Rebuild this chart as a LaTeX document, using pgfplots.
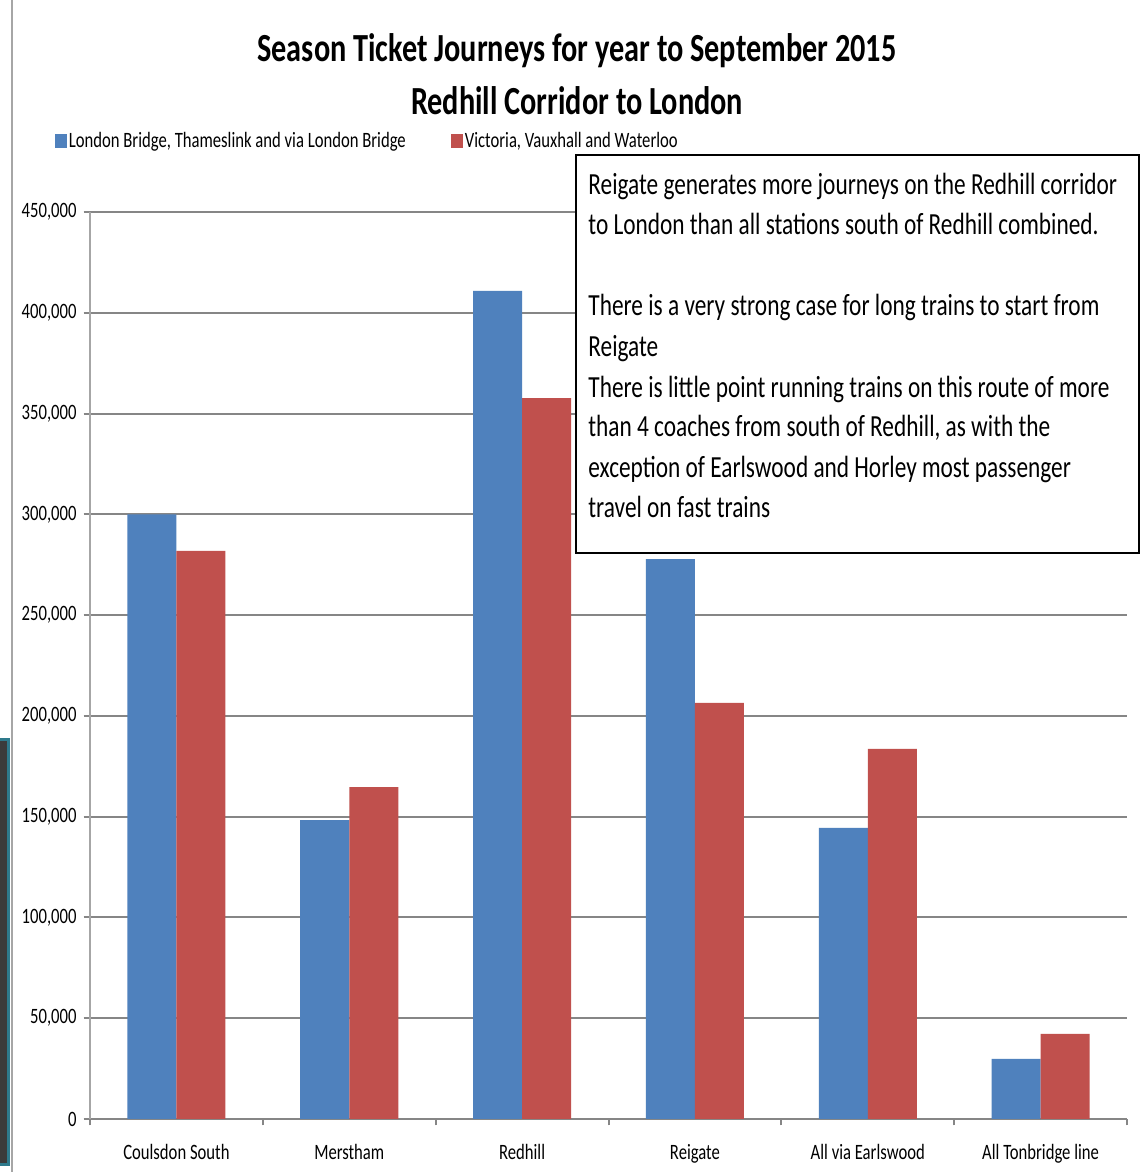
\documentclass[border=0pt]{standalone}
\usepackage{pgfplots}
\pgfplotsset{compat=1.18}
\usepackage{fontspec}
\setmainfont{Carlito}[FakeStretch=0.76]
\definecolor{sblue}{HTML}{4F81BD}
\definecolor{sred}{HTML}{C0504D}
\definecolor{gridg}{HTML}{868686}
\definecolor{axg}{HTML}{A6A6A6}
\definecolor{boxteal}{HTML}{2E7A8C}
\begin{document}
\begin{tikzpicture}[x=0.5bp,y=0.5bp]
\path[use as bounding box] (0,0) rectangle (1140,1172);
\fill[white] (0,0) rectangle (1140,1172);
\draw[axg, line width=1bp] (11.5,0) -- (11.5,1172);
\draw[fill=black!77, draw=boxteal, line width=1.5bp] (-4,7) rectangle (8,432);
\begin{axis}[
  at={(45bp,26.5bp)}, anchor=south west, scale only axis,
  width=518.5bp, height=453.5bp,
  xmin=-0.5, xmax=5.5, ymin=0, ymax=450000,
  axis lines*=left,
  x axis line style={gridg, line width=1.2bp},
  y axis line style={axg, line width=1bp},
  xtick={-0.5,0.5,1.5,2.5,3.5,4.5,5.5},
  x tick label as interval,
  xticklabels={Coulsdon South, Merstham, Redhill, Reigate, All via Earlswood, All Tonbridge line},
  xticklabel style={yshift=-6bp},
  ytick={0,50000,100000,150000,200000,250000,300000,350000,400000,450000},
  scaled y ticks=false,
  yticklabel style={/pgf/number format/.cd, fixed, 1000 sep={,}, assume math mode=true},
  tick label style={font=\fontsize{11}{13}\selectfont, text=black},
  tick align=outside,
  major tick length=3.2bp,
  tick style={gridg, line width=1bp},
  ymajorgrids,
  major grid style={gridg, line width=1bp},
  legend columns=2,
  legend style={at={(-0.0338,1.0783)}, anchor=west, draw=none, fill=none, inner sep=0pt,
    font=\fontsize{11}{13}\selectfont, nodes={inner sep=0.75bp},
    /tikz/every even column/.append style={column sep=22bp}},
  legend image code/.code={\path[#1, draw=none] (0bp,-3.5bp) rectangle (6bp,3.5bp);},
]
\addplot[ybar, bar width=0.2836, bar shift=-0.1418, fill=sblue, draw=none] coordinates {
  (0,300000) (1,148300) (2,410800) (3,277800) (4,144400) (5,29800)};
\addplot[ybar, bar width=0.2836, bar shift=0.1418, fill=sred, draw=none] coordinates {
  (0,281800) (1,164700) (2,357700) (3,206400) (4,183600) (5,42200)};
\legend{{London Bridge, Thameslink and via London Bridge}, {Victoria, Vauxhall and Waterloo}}
\end{axis}
\node[font=\bfseries\fontsize{20}{24}\selectfont, anchor=base] at (577,1110) {Season Ticket Journeys for year to September 2015};
\node[font=\bfseries\fontsize{20}{24}\selectfont, anchor=base] at (577,1057) {Redhill Corridor to London};
\draw[black, line width=1bp, fill=white] (576,619) rectangle (1139,1017);
\begin{scope}[every node/.style={anchor=base west, inner sep=0pt, font=\fontsize{15.4}{18}\selectfont}]
\node at (588,977) {Reigate generates more journeys on the Redhill corridor};
\node at (588,937) {to London than all stations south of Redhill combined.};
\node at (588,856) {There is a very strong case for long trains to start from};
\node at (588,815) {Reigate};
\node at (588,774) {There is little point running trains on this route of more};
\node at (588,735) {than 4 coaches from south of Redhill, as with the};
\node at (588,694) {exception of Earlswood and Horley most passenger};
\node at (588,654) {travel on fast trains};
\end{scope}
\end{tikzpicture}
\end{document}
